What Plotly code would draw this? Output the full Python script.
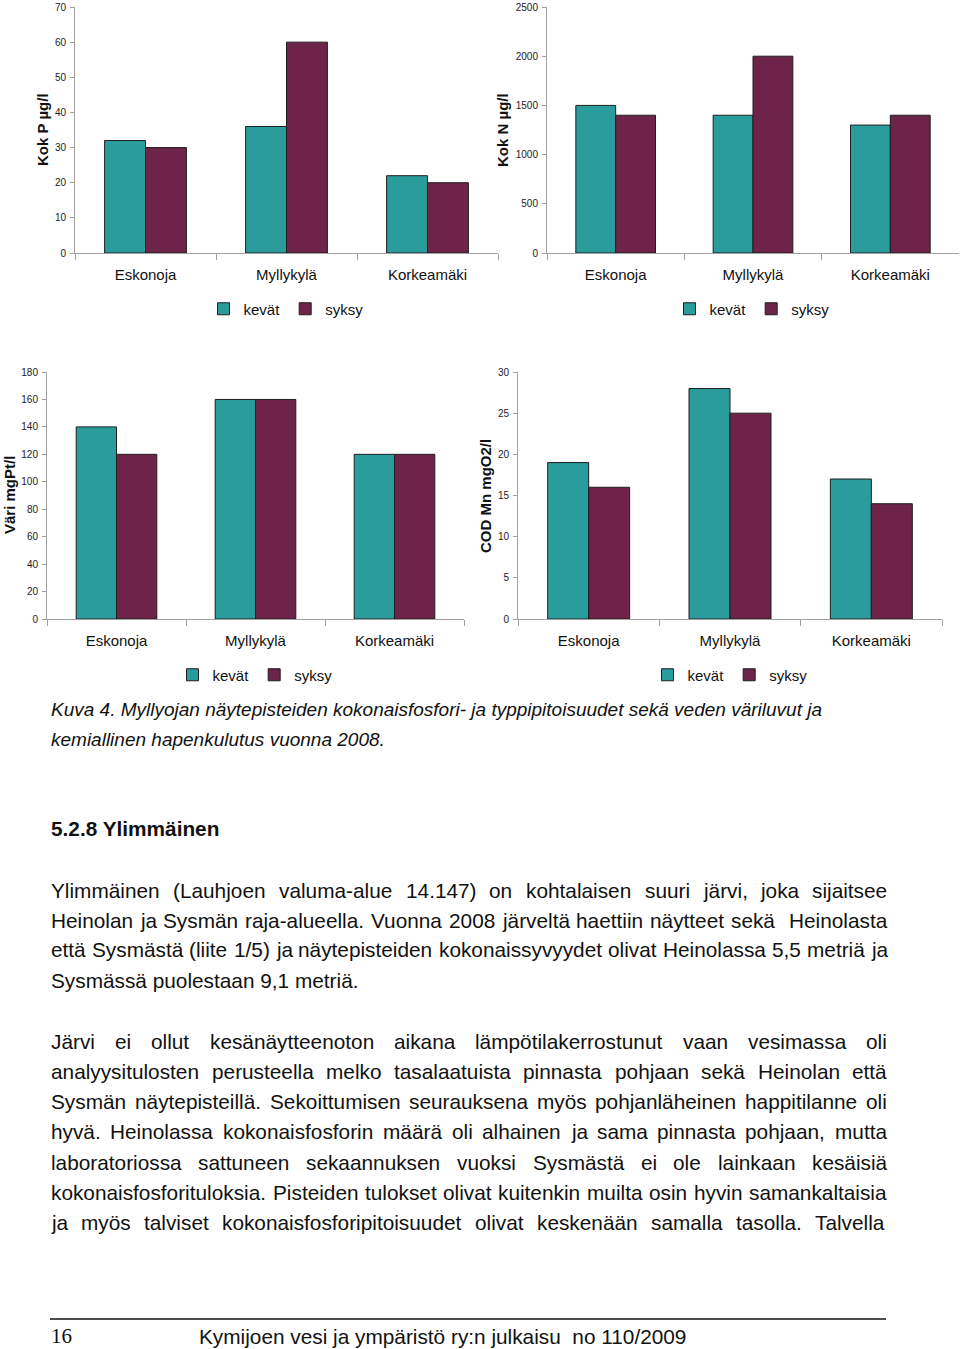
import plotly.graph_objects as go

# ---------------- data ----------------
categories = ["Eskonoja", "Myllykylä", "Korkeamäki"]
series_names = ["kevät", "syksy"]

kok_p_kevat = [32, 36, 22]
kok_p_syksy = [30, 60, 20]

kok_n_kevat = [1500, 1400, 1300]
kok_n_syksy = [1400, 2000, 1400]

vari_kevat = [140, 160, 120]
vari_syksy = [120, 160, 120]

cod_kevat = [19, 28, 17]
cod_syksy = [16, 25, 14]

y_titles = ["Kok P µg/l", "Kok N µg/l", "Väri mgPt/l", "COD Mn mgO2/l"]
y_max = [70, 2500, 180, 30]
y_step = [10, 500, 20, 5]

caption_lines = [
    "Kuva 4. Myllyojan näytepisteiden kokonaisfosfori- ja typpipitoisuudet sekä veden väriluvut ja",
    "kemiallinen hapenkulutus vuonna 2008.",
]
heading = "5.2.8 Ylimmäinen"
para1 = [
    "Ylimmäinen (Lauhjoen valuma-alue 14.147) on kohtalaisen suuri järvi, joka sijaitsee",
    "Heinolan ja Sysmän raja-alueella. Vuonna 2008 järveltä haettiin näytteet sekä  Heinolasta",
    "että Sysmästä (liite 1/5) ja näytepisteiden kokonaissyvyydet olivat Heinolassa 5,5 metriä ja",
    "Sysmässä puolestaan 9,1 metriä.",
]
para2 = [
    "Järvi ei ollut kesänäytteenoton aikana lämpötilakerrostunut vaan vesimassa oli",
    "analyysitulosten perusteella melko tasalaatuista pinnasta pohjaan sekä Heinolan että",
    "Sysmän näytepisteillä. Sekoittumisen seurauksena myös pohjanläheinen happitilanne oli",
    "hyvä. Heinolassa kokonaisfosforin määrä oli alhainen ja sama pinnasta pohjaan, mutta",
    "laboratoriossa sattuneen sekaannuksen vuoksi Sysmästä ei ole lainkaan kesäisiä",
    "kokonaisfosforituloksia. Pisteiden tulokset olivat kuitenkin muilta osin hyvin samankaltaisia",
    "ja myös talviset kokonaisfosforipitoisuudet olivat keskenään samalla tasolla. Talvella",
]
footer_page = "16"
footer_text = "Kymijoen vesi ja ympäristö ry:n julkaisu  no 110/2009"

# ---------------- layout constants ----------------
FW, FH = 960, 1349
FONT = "Liberation Sans, Arial, sans-serif"
TEAL = "#2a9c9c"
MAROON = "#6e2449"
AXIS_GREY = "#a0a0a0"


def px(x):
    return x / FW


def py(y):
    return 1 - y / FH


charts = [
    dict(kev=kok_p_kevat, syk=kok_p_syksy, xd=(75, 498), yd=(253, 7), title_xy=(42, 130), leg_xy=(286, 309)),
    dict(kev=kok_n_kevat, syk=kok_n_syksy, xd=(547, 959), yd=(253, 7), title_xy=(502, 130), leg_xy=(752, 309)),
    dict(kev=vari_kevat, syk=vari_syksy, xd=(47, 464), yd=(619, 372), title_xy=(9, 495), leg_xy=(255, 675)),
    dict(kev=cod_kevat, syk=cod_syksy, xd=(518, 942), yd=(619, 372), title_xy=(485, 496), leg_xy=(730, 675)),
]

fig = go.Figure()
annotations = []
layout = dict(
    width=FW, height=FH, autosize=False,
    margin=dict(l=0, r=0, t=0, b=0, pad=0, autoexpand=False),
    paper_bgcolor="white", plot_bgcolor="white",
    barmode="group", bargap=0.42, bargroupgap=0,
    font=dict(family=FONT, color="#111111"),
)

for i, c in enumerate(charts):
    sfx = "" if i == 0 else str(i + 1)
    leg = "legend" + sfx
    for name, vals, col in ((series_names[0], c["kev"], TEAL), (series_names[1], c["syk"], MAROON)):
        fig.add_trace(go.Bar(
            x=categories, y=vals, name=name,
            xaxis="x" + sfx, yaxis="y" + sfx, legend=leg,
            marker=dict(color=col, line=dict(color="#1e1e1e", width=1)),
            hoverinfo="x+y+name",
        ))
    layout["xaxis" + sfx] = dict(
        domain=[px(c["xd"][0]), px(c["xd"][1])], anchor="y" + sfx,
        type="category", range=[-0.5, 2.5], automargin=False,
        showline=True, linecolor=AXIS_GREY, linewidth=1,
        ticks="outside", tickson="boundaries", ticklen=6, tickcolor=AXIS_GREY,
        tickfont=dict(size=15, color="#111111", family=FONT),
        ticklabelstandoff=8, showgrid=False, zeroline=False, fixedrange=True,
    )
    layout["yaxis" + sfx] = dict(
        domain=[py(c["yd"][0]), py(c["yd"][1])], anchor="x" + sfx,
        range=[0, y_max[i]], tick0=0, dtick=y_step[i], automargin=False,
        showline=True, linecolor=AXIS_GREY, linewidth=1,
        ticks="outside", ticklen=4, tickcolor=AXIS_GREY,
        tickfont=dict(size=10, color="#222222", family=FONT),
        ticklabelstandoff=2, showgrid=False, zeroline=False, fixedrange=True,
    )
    layout[leg] = dict(
        orientation="h", x=px(c["leg_xy"][0]), y=py(c["leg_xy"][1]),
        xanchor="center", yanchor="middle", xref="paper", yref="paper",
        font=dict(size=15, color="#111111", family=FONT),
        bgcolor="rgba(0,0,0,0)", itemwidth=30, traceorder="normal",
        itemclick=False, itemdoubleclick=False,
    )
    annotations.append(dict(
        text="<b>" + y_titles[i] + "</b>", textangle=-90,
        x=px(c["title_xy"][0]), y=py(c["title_xy"][1]), xref="paper", yref="paper",
        xanchor="center", yanchor="middle", showarrow=False,
        font=dict(size=15, color="#111111", family=FONT),
    ))

# ---------------- page text ----------------
# Arial / Liberation Sans advance widths (1/1000 em)
W = {" ": 278, ".": 278, ",": 278, "(": 333, ")": 333, "-": 333, "/": 278, ":": 278}
for ch in "0123456789":
    W[ch] = 556
W.update(dict(a=556, b=556, c=500, d=556, e=556, f=278, g=556, h=556, i=222, j=222, k=500,
              l=222, m=833, n=556, o=556, p=556, q=556, r=333, s=500, t=278, u=556, v=500,
              w=722, x=500, y=500, z=500))
W.update({"ä": 556, "ö": 556, "å": 556, "A": 667, "B": 667, "C": 722, "D": 722, "E": 667,
          "F": 611, "G": 778, "H": 722, "I": 278, "J": 500, "K": 667, "L": 556, "M": 833,
          "N": 722, "O": 778, "P": 667, "R": 722, "S": 667, "T": 611, "V": 667, "Y": 667})

BODY = 20.8
X0, X1 = 51, 887


def tw(s, size):
    return sum(W.get(ch, 556) for ch in s) * size / 1000.0


def text_ann(text, x, y, size, family=FONT, italic=False, bold=False, xanchor="left", yanchor="middle"):
    t = text
    if bold:
        t = "<b>" + t + "</b>"
    if italic:
        t = "<i>" + t + "</i>"
    annotations.append(dict(
        text=t, x=px(x), y=py(y), xref="paper", yref="paper",
        xanchor=xanchor, yanchor=yanchor, showarrow=False,
        borderpad=0, borderwidth=0,
        font=dict(size=size, color="#111111", family=family),
    ))


def paragraph(lines, y0, step, last_justified):
    for k, line in enumerate(lines):
        y = y0 + k * step
        justify = (k < len(lines) - 1) or last_justified
        if not justify:
            text_ann(line, X0, y, BODY)
            continue
        tokens = line.split(" ")
        widths = [tw(t, BODY) for t in tokens]
        gap = (X1 - X0 - sum(widths)) / (len(tokens) - 1)
        x = X0
        for t, w in zip(tokens, widths):
            if t:
                text_ann(t, x, y, BODY)
            x += w + gap


text_ann(caption_lines[0], X0, 709, 19, italic=True)
text_ann(caption_lines[1], X0, 739, 19, italic=True)
text_ann(heading, X0, 829, BODY, bold=True)
paragraph(para1, 890, 30, False)
paragraph(para2, 1041, 30.3, True)

# footer
text_ann(footer_page, 51, 1348, 21, family="Liberation Serif, Times New Roman, serif", yanchor="bottom")
text_ann(footer_text, 199, 1336, BODY)

layout["annotations"] = annotations
layout["shapes"] = [dict(type="line", xref="paper", yref="paper",
                         x0=px(50), x1=px(886), y0=py(1319), y1=py(1319),
                         line=dict(color="#111111", width=1.5))]

fig.update_layout(**layout)

page_fix = (
    "var de=document.documentElement, b=document.body;"
    "de.style.margin='0';de.style.padding='0';de.style.overflow='hidden';"
    "b.style.margin='0';b.style.padding='0';b.style.overflow='hidden';"
    "var g=document.querySelector('.plotly-graph-div');"
    "if(g){g.style.position='fixed';g.style.left='0px';g.style.top='0px';}"
)
fig.write_html("out.html", config={"displayModeBar": False}, post_script=page_fix)
